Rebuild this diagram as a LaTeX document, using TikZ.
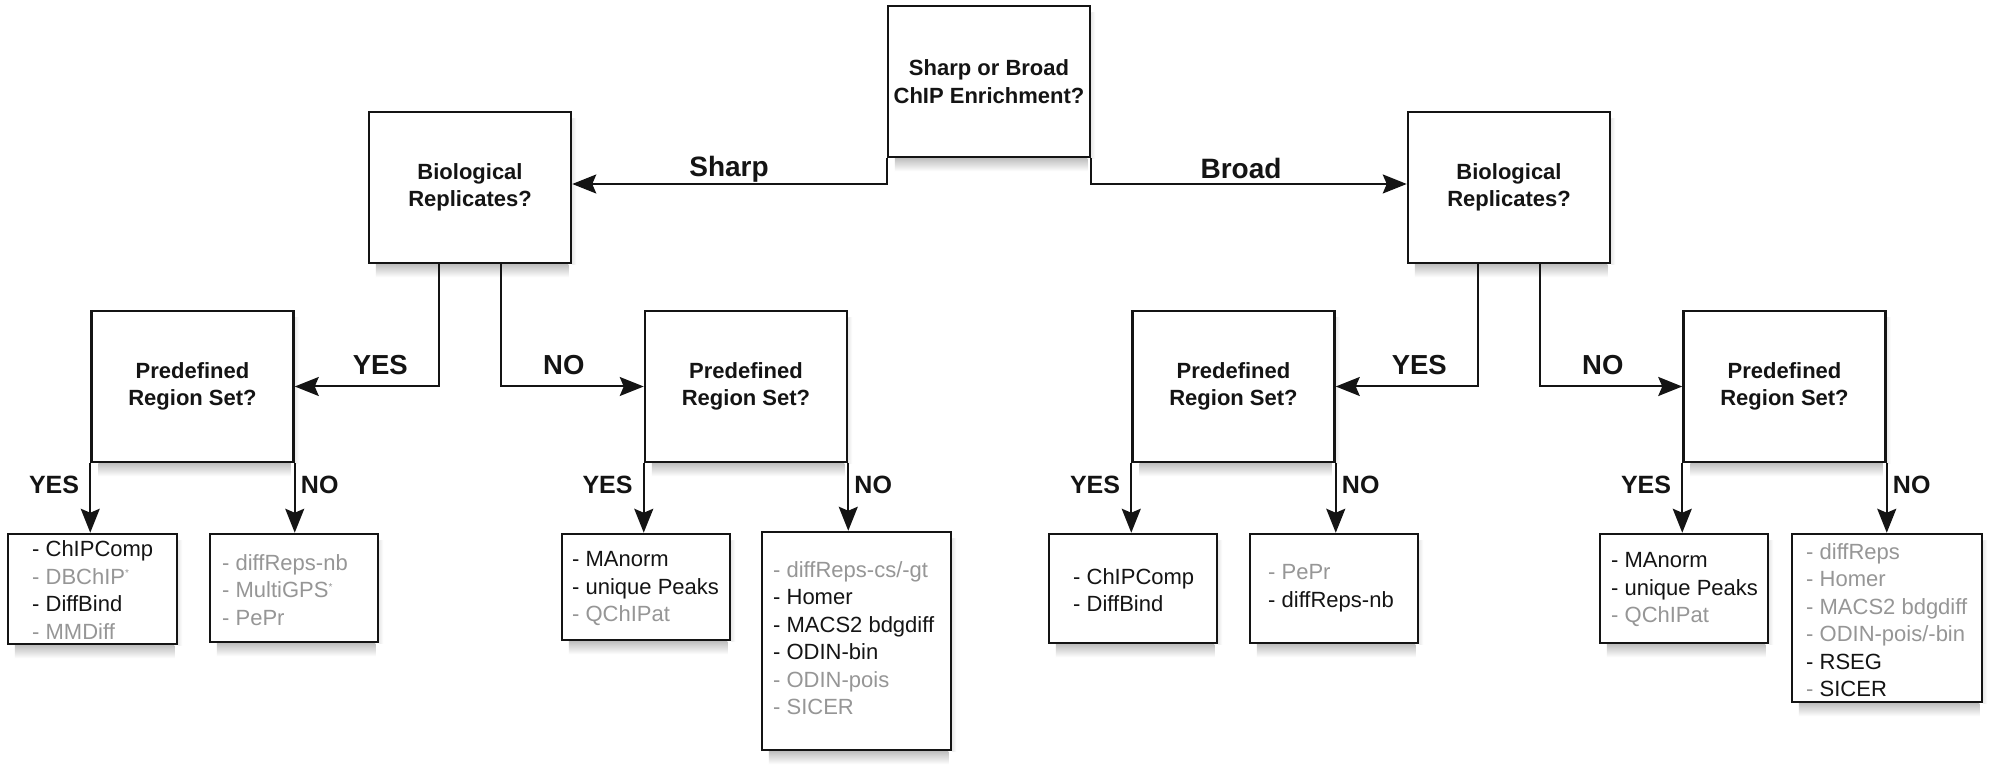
\documentclass[tikz,border=0pt]{standalone}
\usepackage{fontspec}
\setmainfont{Liberation Sans}
\usetikzlibrary{arrows.meta,backgrounds}
\definecolor{tg}{RGB}{150,150,150}
\definecolor{ink}{RGB}{20,20,20}
\begin{document}
\begin{tikzpicture}[x=1pt,y=-1pt,
  qbox/.style={draw=ink, line width=2.5pt, fill=white, minimum width=202pt, minimum height=151pt,
    inner sep=0pt, align=center, text=ink, font=\bfseries\fontsize{22}{27.5}\selectfont},
  leafbox/.style={draw=ink, line width=2.5pt, fill=white, inner sep=0pt},
  leaftext/.style={anchor=west, inner sep=0pt, align=left, text=ink, font=\fontsize{22}{27.5}\selectfont},
  arr/.style={draw=ink, line width=2pt, -{Stealth[length=24pt,width=19pt,inset=4pt]}},
  bigl/.style={font=\bfseries\fontsize{28}{28}\selectfont, inner sep=0pt, text=ink},
  midl/.style={font=\bfseries\fontsize{27.5}{27.5}\selectfont, inner sep=0pt, text=ink},
  smalll/.style={font=\bfseries\fontsize{25}{25}\selectfont, inner sep=0pt, text=ink},
]
\useasboundingbox (0,0) rectangle (2000,775);

% question boxes
\node[qbox] (top) at (989,81.5) {Sharp or Broad\\ChIP Enrichment?};
\node[qbox] (brl) at (470,187.5) {Biological\\Replicates?};
\node[qbox] (brr) at (1509,187.5) {Biological\\Replicates?};
\node[qbox] (p1) at (192.5,386.5) {Predefined\\Region Set?};
\node[qbox] (p2) at (746,386.5) {Predefined\\Region Set?};
\node[qbox] (p3) at (1233.5,386.5) {Predefined\\Region Set?};
\node[qbox] (p4) at (1784.5,386.5) {Predefined\\Region Set?};

% leaf boxes
\node[leafbox, minimum width=169pt, minimum height=110pt] (l1) at (92.5,589) {};
\node[leafbox, minimum width=168pt, minimum height=108pt] (l2) at (294,588) {};
\node[leafbox, minimum width=168pt, minimum height=106pt] (l3) at (646,587) {};
\node[leafbox, minimum width=189pt, minimum height=218pt] (l4) at (856.5,641) {};
\node[leafbox, minimum width=168pt, minimum height=109pt] (l5) at (1133,588.5) {};
\node[leafbox, minimum width=168pt, minimum height=109pt] (l6) at (1334,588.5) {};
\node[leafbox, minimum width=168pt, minimum height=109pt] (l7) at (1684,588.5) {};
\node[leafbox, minimum width=190pt, minimum height=168pt] (l8) at (1887,618) {};

% leaf texts
\node[leaftext] (t1) at (32,590) {- ChIPComp\\\textcolor{tg}{- DBChIP\textsuperscript{\fontsize{10}{10}\selectfont *}}\\- DiffBind\\\textcolor{tg}{- MMDiff}};
\node[leaftext, text=tg] (t2) at (222,590) {- diffReps-nb\\- MultiGPS\textsuperscript{\fontsize{10}{10}\selectfont *}\\- PePr};
\node[leaftext] (t3) at (572,589) {- MAnorm\\- unique Peaks\\\textcolor{tg}{- QChIPat}};
\node[leaftext] (t4) at (773,638) {\textcolor{tg}{- diffReps-cs/-gt}\\- Homer\\- MACS2 bdgdiff\\- ODIN-bin\\\textcolor{tg}{- ODIN-pois}\\\textcolor{tg}{- SICER}};
\node[leaftext] (t5) at (1073,590) {- ChIPComp\\- DiffBind};
\node[leaftext] (t6) at (1268,588) {\textcolor{tg}{- PePr}\\- diffReps-nb};
\node[leaftext] (t7) at (1611,590) {- MAnorm\\- unique Peaks\\\textcolor{tg}{- QChIPat}};
\node[leaftext] (t8) at (1806,620) {\textcolor{tg}{- diffReps}\\\textcolor{tg}{- Homer}\\\textcolor{tg}{- MACS2 bdgdiff}\\\textcolor{tg}{- ODIN-pois/-bin}\\- RSEG\\\textcolor{tg}{-} SICER};

% top level connectors
\draw[arr] (top.south west) |- ([yshift=3.5pt]brl.east);
\draw[arr] (top.south east) |- ([yshift=3.5pt]brr.west);
\node[bigl, anchor=base] (lsharp) at (729,177) {Sharp};
\node[bigl, anchor=base] (lbroad) at (1241,179) {Broad};

% second level
\draw[arr] ([xshift=-31pt]brl.south) |- (p1.east);
\draw[arr] ([xshift=31pt]brl.south) |- (p2.west);
\draw[arr] ([xshift=-31pt]brr.south) |- (p3.east);
\draw[arr] ([xshift=31pt]brr.south) |- (p4.west);
\node[midl, anchor=base east] (y1) at (408,375) {YES};
\node[midl, anchor=base west] (n1) at (543,375) {NO};
\node[midl, anchor=base east] (y2) at (1447,375) {YES};
\node[midl, anchor=base west] (n2) at (1582,375) {NO};

% third level
\foreach \p/\a/\b in {p1/l1/l2, p2/l3/l4, p3/l5/l6, p4/l7/l8}{
  \draw[arr] (\p.south west) -- (\p.south west |- \a.north);
  \draw[arr] (\p.south east) -- (\p.south east |- \b.north);
  \node[smalll, anchor=base east] (\p ys) at ([xshift=-11pt]\p.south west |- 0,493) {YES};
  \node[smalll, anchor=base west] (\p no) at ([xshift=6pt]\p.south east |- 0,493) {NO};
}

% background and soft shadows
\begin{scope}[on background layer]
  \fill[white] (0,0) rectangle (2000,775);
  \foreach \n in {top,brl,brr,p1,p2,p3,p4,l1,l2,l3,l4,l5,l6,l7,l8}{
    \shade[top color=black!25, bottom color=white]
      ([xshift=8pt]\n.south west) rectangle ([xshift=-4pt,yshift=-13pt]\n.south east);
    \shade[left color=black!8, right color=white]
      ([yshift=-8pt]\n.north east) rectangle ([xshift=4pt]\n.south east);
  }
\end{scope}
\end{tikzpicture}
\end{document}
